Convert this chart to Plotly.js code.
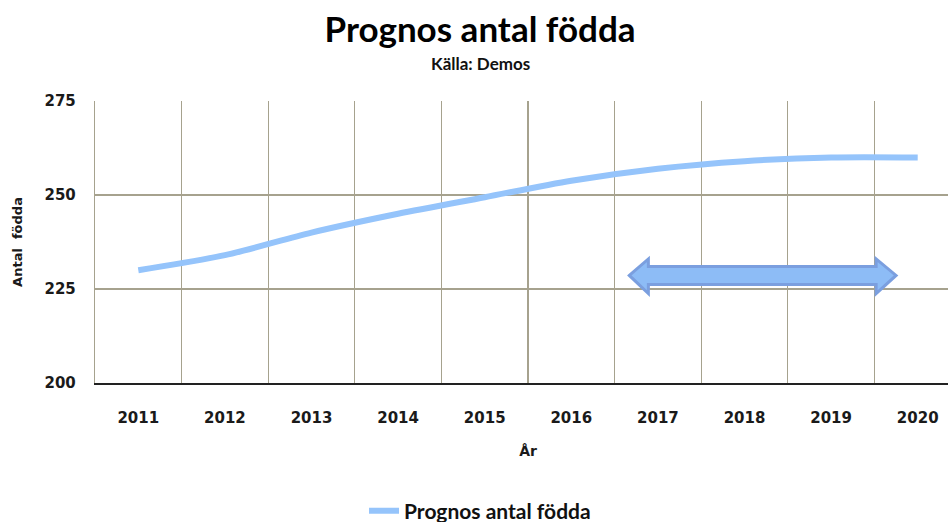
<!DOCTYPE html>
<html>
<head>
<meta charset="utf-8">
<script src="https://cdn.plot.ly/plotly-3.0.1.min.js"></script>
<style>
html,body{margin:0;padding:0;overflow:hidden;background:#fff;}
#chart{width:975px;height:522px;}
</style>
</head>
<body>
<div id="chart"></div>
<script>
var years = ['2011','2012','2013','2014','2015','2016','2017','2018','2019','2020'];
var births = [230, 234, 240, 245, 249.4, 253.8, 257, 259, 260, 260];
var yTicks = [200, 225, 250, 275];
var seriesName = 'Prognos antal födda';

var gridCol = '#a6a28e';
var tickFont = {family: 'DejaVu Sans', size: 15, color: '#1a1a1a', weight: 'bold'};

// double-headed block arrow (decoration) in axis coordinates
var ax0 = 5.67, ax1 = 8.75, hb0 = 5.89, hb1 = 8.52;
var sT = 231.0, sB = 226.2, hT = 233.0, hB = 223.8, yc = 228.6;
var arrowPath = 'M ' + ax0 + ',' + yc +
  ' L ' + hb0 + ',' + hT + ' L ' + hb0 + ',' + sT +
  ' L ' + hb1 + ',' + sT + ' L ' + hb1 + ',' + hT +
  ' L ' + ax1 + ',' + yc +
  ' L ' + hb1 + ',' + hB + ' L ' + hb1 + ',' + sB +
  ' L ' + hb0 + ',' + sB + ' L ' + hb0 + ',' + hB + ' Z';

var trace = {
  x: years, y: births, type: 'scatter', mode: 'lines', name: seriesName,
  line: {color: '#95c4fb', width: 6, shape: 'spline', smoothing: 0.8},
  hoverinfo: 'skip'
};

var layout = {
  width: 975, height: 522,
  margin: {l: 95, r: 14, t: 101, b: 139, autoexpand: false},
  paper_bgcolor: '#ffffff', plot_bgcolor: '#ffffff',
  showlegend: true,
  title: {
    text: 'Prognos antal födda',
    font: {family: 'Lato', size: 35, color: '#000000', weight: 'bold'},
    xref: 'paper', x: 0.4446, xanchor: 'center',
    yref: 'container', y: 0.943, yanchor: 'middle'
  },
  xaxis: {
    type: 'category', range: [-0.5, 9.5], tickson: 'boundaries',
    showgrid: true, gridcolor: gridCol, gridwidth: 1.2,
    showline: true, linecolor: '#222222', linewidth: 1.5,
    ticks: '', tickfont: tickFont, ticklabelstandoff: 20,
    zeroline: false, fixedrange: true,
    title: {text: 'År', font: {family: 'DejaVu Sans', size: 14, color: '#1a1a1a', weight: 'bold'}, standoff: 20}
  },
  yaxis: {
    range: [200, 275], tickvals: yTicks, ticktext: yTicks.map(String),
    showgrid: true, gridcolor: gridCol, gridwidth: 1.2,
    showline: true, linecolor: gridCol, linewidth: 1.2,
    ticks: '', tickfont: tickFont, ticklabelstandoff: 15,
    zeroline: false, fixedrange: true,
    title: {text: 'Antal  födda', font: {family: 'DejaVu Sans', size: 13, color: '#1a1a1a', weight: 'bold'}, standoff: 19}
  },
  legend: {
    orientation: 'h', xref: 'paper', x: 0.4446, xanchor: 'center',
    yref: 'paper', y: -0.454, yanchor: 'middle',
    font: {family: 'Lato', size: 21, color: '#111111', weight: 'bold'},
    itemwidth: 30
  },
  shapes: [{
    type: 'path', xref: 'x', yref: 'y', path: arrowPath,
    fillcolor: '#8dbcf6', line: {color: '#7b9fdf', width: 3}, layer: 'above'
  }],
  annotations: [{
    text: 'Källa: Demos', xref: 'paper', x: 0.4446, xanchor: 'center',
    yref: 'paper', y: 1.0, yshift: 38, yanchor: 'middle', showarrow: false,
    font: {family: 'Lato', size: 17, color: '#111111', weight: 'bold'}
  }]
};

Plotly.newPlot('chart', [trace], layout, {displayModeBar: false, staticPlot: true});
</script>
</body>
</html>
